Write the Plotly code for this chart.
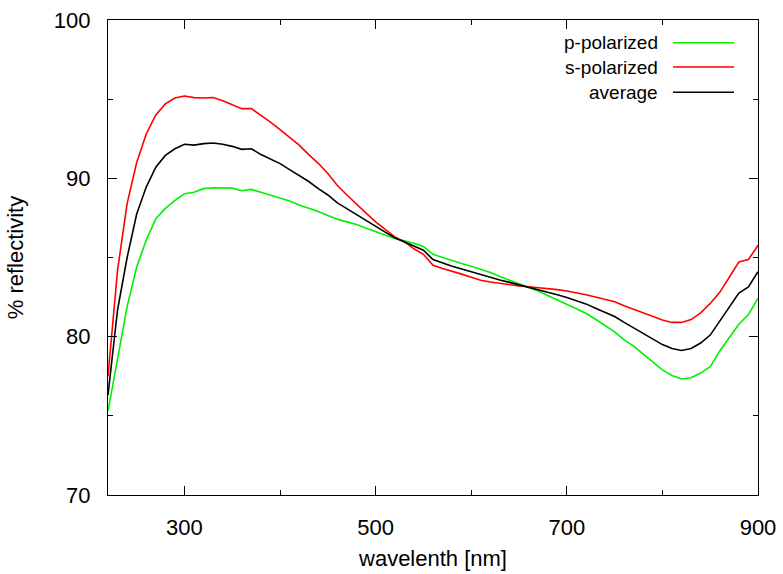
import plotly.graph_objects as go

wavelength = list(range(220, 901, 10))

p_polarized = [75.3, 78.6, 81.9, 84.4, 86.1, 87.45, 88.1, 88.6, 89.03, 89.12,
               89.35, 89.41, 89.39, 89.38, 89.22, 89.3, 89.12, 88.93, 88.75, 88.57,
               88.32, 88.12, 87.9, 87.65, 87.42, 87.25, 87.08, 86.85, 86.62, 86.42,
               86.2, 86.05, 85.9, 85.7, 85.2, 85.0, 84.8, 84.62, 84.45, 84.27,
               84.05, 83.8, 83.58, 83.35, 83.13, 82.88, 82.6, 82.32, 82.05, 81.77,
               81.48, 81.1, 80.72, 80.3, 79.8, 79.4, 78.9, 78.4, 77.9, 77.55,
               77.33, 77.4, 77.7, 78.1, 79.1, 79.95, 80.79, 81.4, 82.41]

s_polarized = [77.5, 84.2, 88.4, 91.0, 92.8, 94.0, 94.7, 95.07, 95.2, 95.1,
               95.07, 95.1, 94.9, 94.65, 94.4, 94.4, 94.0, 93.55, 93.07, 92.6,
               92.1, 91.5, 90.95, 90.3, 89.55, 88.95, 88.35, 87.8, 87.25, 86.75,
               86.3, 86.0, 85.55, 85.2, 84.51, 84.3, 84.1, 83.95, 83.75, 83.56,
               83.45, 83.36, 83.27, 83.2, 83.15, 83.1, 83.04, 82.97, 82.88, 82.77,
               82.65, 82.5, 82.35, 82.2, 81.95, 81.72, 81.46, 81.25, 81.05, 80.9,
               80.9, 81.08, 81.5, 82.1, 82.8, 83.75, 84.72, 84.87, 85.77]

average = [76.3, 81.7, 85.0, 87.75, 89.45, 90.7, 91.45, 91.87, 92.15, 92.1,
           92.19, 92.23, 92.15, 92.02, 91.83, 91.87, 91.5, 91.2, 90.93, 90.55,
           90.18, 89.8, 89.35, 88.95, 88.45, 88.07, 87.73, 87.33, 86.95, 86.6,
           86.25, 86.0, 85.72, 85.46, 84.87, 84.65, 84.45, 84.28, 84.1, 83.92,
           83.75, 83.58, 83.43, 83.28, 83.14, 82.98, 82.82, 82.65, 82.47, 82.27,
           82.07, 81.8, 81.55, 81.27, 80.9, 80.55, 80.2, 79.83, 79.5, 79.25,
           79.13, 79.25, 79.6, 80.1, 80.97, 81.85, 82.75, 83.14, 84.1]

series_names = ["p-polarized", "s-polarized", "average"]
series_values = [p_polarized, s_polarized, average]
series_colors = ["#00f000", "#ff0000", "#000000"]

x_ticks = [300, 500, 700, 900]
y_ticks = [70, 80, 90, 100]

FONT = "Liberation Sans, Arial, sans-serif"

fig = go.Figure()
for name, vals, col in zip(series_names, series_values, series_colors):
    fig.add_trace(go.Scatter(x=wavelength, y=vals, mode="lines", name=name,
                             line=dict(color=col, width=1.6), showlegend=False))

# gnuplot-style key: text on left, sample line on right
leg_y = [0.952, 0.901, 0.848]
for name, col, yy in zip(series_names, series_colors, leg_y):
    fig.add_annotation(x=0.8485, y=yy, xref="paper", yref="paper", text=name,
                       showarrow=False, xanchor="right", yanchor="middle",
                       font=dict(family=FONT, size=19, color="black"))
    fig.add_shape(type="line", xref="paper", yref="paper", x0=0.8693, x1=0.9631,
                  y0=yy, y1=yy, line=dict(color=col, width=1.6))

axis_common = dict(showline=True, linecolor="black", linewidth=1.2, mirror="ticks",
                   ticks="inside", ticklen=9, tickcolor="black", tickwidth=1,
                   showgrid=False, zeroline=False,
                   tickfont=dict(family=FONT, size=22, color="black"))

fig.update_xaxes(range=[220, 900], tickvals=x_ticks, ticklabelstandoff=12,
                 minor=dict(ticks="inside", ticklen=5, dtick=100, tick0=200,
                            tickcolor="black", showgrid=False),
                 title=dict(text="wavelenth [nm]", font=dict(family=FONT, size=22, color="black"),
                            standoff=12),
                 **axis_common)
fig.update_yaxes(range=[70, 100], tickvals=y_ticks, ticklabelstandoff=12,
                 minor=dict(ticks="inside", ticklen=5, dtick=5, tick0=70,
                            tickcolor="black", showgrid=False),
                 title=dict(text="% reflectivity", font=dict(family=FONT, size=22, color="black"),
                            standoff=24),
                 **axis_common)

fig.update_layout(width=783, height=574, plot_bgcolor="white", paper_bgcolor="white",
                  margin=dict(l=107.5, r=25, t=19.5, b=79, autoexpand=False))

fig.write_html("out.html")
